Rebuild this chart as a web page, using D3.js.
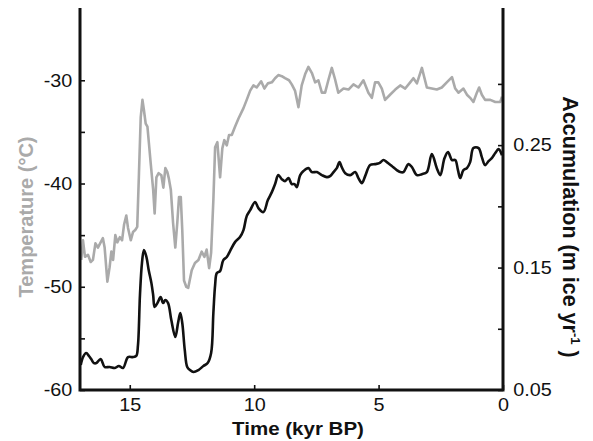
<!DOCTYPE html>
<html>
<head>
<meta charset="utf-8">
<script src="https://cdn.jsdelivr.net/npm/d3@7"></script>
<style>
  html, body { margin: 0; padding: 0; background: #fff; }
  svg { display: block; font-family: "Liberation Sans", Arial, Helvetica, sans-serif; }
</style>
</head>
<body>
<svg id="chart" width="593" height="441"></svg>
<script>
// Ice-core record: temperature (left axis) and accumulation (right axis) over the last 17 kyr.

// Time in kyr BP for the temperature record
const tempAge = [16.95,16.88,16.80,16.68,16.57,16.48,16.38,16.28,16.17,16.08,16.01,15.90,15.81,15.74,15.67,15.58,15.50,15.40,15.31,15.23,15.14,15.07,14.96,14.87,14.78,14.70,14.63,14.56,14.49,14.43,14.36,14.29,14.23,14.16,14.06,14.00,13.93,13.84,13.73,13.65,13.57,13.49,13.43,13.35,13.26,13.17,13.09,13.02,12.95,12.89,12.82,12.73,12.65,12.51,12.38,12.24,12.11,12.00,11.91,11.81,11.73,11.64,11.57,11.48,11.37,11.28,11.20,11.10,11.01,10.90,10.77,10.63,10.43,10.30,10.16,10.03,9.90,9.72,9.59,9.45,9.29,9.16,9.03,8.89,8.76,8.60,8.49,8.36,8.22,8.09,7.95,7.82,7.68,7.55,7.42,7.28,7.15,7.02,6.88,6.75,6.62,6.41,6.21,6.01,5.81,5.61,5.41,5.27,5.14,5.01,4.87,4.74,4.54,4.33,4.13,3.93,3.73,3.60,3.46,3.26,3.06,2.86,2.66,2.46,2.26,2.05,1.92,1.79,1.59,1.45,1.32,1.19,1.05,0.96,0.85,0.72,0.51,0.31,0.11,0.04];
// Temperature, degrees C
const tempValue = [-47.4,-45.5,-47.1,-46.9,-47.6,-47.4,-45.8,-46.2,-45.7,-45.3,-46.2,-49.5,-48.1,-46.6,-47.4,-45.0,-45.7,-45.2,-45.5,-44.0,-43.1,-44.3,-45.5,-44.7,-44.5,-44.2,-39.0,-33.6,-31.9,-32.9,-34.2,-34.5,-36.1,-38.0,-40.6,-42.9,-39.4,-39.0,-39.2,-40.4,-38.5,-38.9,-39.5,-40.6,-43.8,-46.2,-43.8,-41.3,-41.3,-44.5,-49.4,-50.0,-50.1,-48.4,-47.7,-47.4,-46.6,-47.1,-46.4,-48.2,-46.7,-41.6,-36.5,-36.0,-39.4,-36.6,-35.8,-36.3,-35.3,-35.3,-34.5,-33.7,-32.7,-31.9,-31.0,-30.5,-30.7,-30.1,-30.8,-30.3,-30.2,-29.8,-29.5,-29.6,-29.8,-30.0,-30.4,-31.0,-32.6,-30.5,-29.4,-28.7,-29.3,-30.2,-30.0,-31.2,-31.2,-30.0,-28.8,-29.9,-31.2,-30.8,-30.9,-30.4,-30.7,-30.0,-31.2,-31.7,-30.2,-30.2,-30.8,-31.9,-31.4,-30.9,-30.5,-30.8,-30.2,-29.8,-30.3,-28.8,-30.7,-30.8,-30.9,-30.7,-30.2,-29.7,-30.8,-31.2,-30.8,-31.4,-31.7,-32.1,-31.2,-30.7,-31.4,-31.9,-31.9,-32.1,-32.1,-31.6];

// Time in kyr BP for the accumulation record
const accAge = [16.97,16.88,16.75,16.64,16.55,16.44,16.34,16.17,16.01,15.81,15.60,15.44,15.27,15.07,14.87,14.74,14.67,14.59,14.51,14.43,14.33,14.24,14.13,14.06,14.00,13.89,13.76,13.66,13.57,13.46,13.33,13.17,13.06,12.97,12.89,12.79,12.69,12.58,12.44,12.24,12.04,11.87,11.73,11.64,11.57,11.50,11.37,11.24,11.10,10.97,10.77,10.57,10.43,10.30,10.16,9.96,9.83,9.63,9.45,9.29,9.16,9.03,8.89,8.76,8.62,8.49,8.38,8.29,8.15,8.02,7.82,7.68,7.48,7.28,7.08,6.95,6.81,6.68,6.57,6.48,6.34,6.14,5.94,5.81,5.67,5.54,5.34,5.14,4.97,4.80,4.67,4.47,4.27,4.13,4.00,3.80,3.66,3.46,3.26,3.06,2.86,2.66,2.52,2.35,2.21,2.05,1.92,1.81,1.72,1.59,1.45,1.32,1.19,0.98,0.85,0.72,0.58,0.45,0.31,0.18,0.04];
// Accumulation, m ice per year
const accValue = [0.0704,0.0769,0.0802,0.0778,0.0753,0.0720,0.0720,0.0753,0.0688,0.0688,0.0680,0.0696,0.0680,0.0769,0.0769,0.0778,0.0867,0.1276,0.1537,0.1643,0.1586,0.1480,0.1373,0.1276,0.1178,0.1210,0.1259,0.1210,0.1235,0.1210,0.1071,0.0933,0.1047,0.1129,0.1047,0.0827,0.0688,0.0663,0.0647,0.0663,0.0696,0.0720,0.0802,0.1129,0.1357,0.1455,0.1471,0.1561,0.1586,0.1635,0.1708,0.1749,0.1806,0.1920,0.1969,0.2035,0.1986,0.1953,0.2051,0.2116,0.2182,0.2255,0.2222,0.2206,0.2231,0.2182,0.2182,0.2157,0.2255,0.2288,0.2312,0.2280,0.2280,0.2255,0.2239,0.2247,0.2280,0.2312,0.2361,0.2320,0.2271,0.2255,0.2280,0.2231,0.2190,0.2247,0.2337,0.2345,0.2353,0.2378,0.2361,0.2329,0.2296,0.2280,0.2280,0.2345,0.2320,0.2255,0.2263,0.2280,0.2427,0.2312,0.2255,0.2394,0.2443,0.2378,0.2378,0.2296,0.2231,0.2296,0.2312,0.2361,0.2476,0.2476,0.2402,0.2337,0.2369,0.2394,0.2435,0.2467,0.2418];

// Axis ticks and labels
const timeTicks = [15, 10, 5, 0];
const tempTicks = [-60, -55, -50, -45, -40, -35, -30];
const tempLabels = [-60, -50, -40, -30];
const accTicks = [0.05, 0.10, 0.15, 0.20, 0.25, 0.30];
const accLabels = [0.05, 0.15, 0.25];

const svg = d3.select("#chart");
const plotLeft = 80, plotRight = 503, plotTop = 8, plotBottom = 390;
const FONT = "'Liberation Sans', Arial, Helvetica, sans-serif";
const WIDEN = 1.1; // tick labels are set slightly wide

const x = d3.scaleLinear().domain([17, 0]).range([plotLeft, plotRight]);
const yT = d3.scaleLinear().domain([-60, -23]).range([plotBottom, plotTop]);
const yA = d3.scaleLinear().domain([0.05, 0.362]).range([plotBottom, plotTop]);

const tempData = tempAge.map((t, i) => ({ t, v: tempValue[i] }));
const accData = accAge.map((t, i) => ({ t, v: accValue[i] }));

// Curves
svg.append("path")
  .datum(tempData)
  .attr("fill", "none")
  .attr("stroke", "#aaaaaa")
  .attr("stroke-width", 2.6)
  .attr("stroke-linejoin", "round")
  .attr("d", d3.line().x(d => x(d.t)).y(d => yT(d.v)));

svg.append("path")
  .datum(accData)
  .attr("fill", "none")
  .attr("stroke", "#111111")
  .attr("stroke-width", 2.6)
  .attr("stroke-linejoin", "round")
  .attr("d", d3.line().curve(d3.curveCatmullRom).x(d => x(d.t)).y(d => yA(d.v)));

// Axes with inward ticks
function styleAxis(g) {
  g.select(".domain").remove();
  g.selectAll(".tick line").attr("stroke", "#111").attr("stroke-width", 1.6);
  g.selectAll(".tick text").attr("fill", "#111").attr("font-size", 18)
    .attr("font-family", FONT)
    .attr("transform", `scale(${WIDEN},1)`);
}

const fmtT = d => tempLabels.includes(d) ? String(d) : "";
const fmtA = d => accLabels.some(v => Math.abs(v - d) < 1e-9) ? d.toFixed(2) : "";

svg.append("g")
  .attr("transform", `translate(${plotLeft},0)`)
  .call(d3.axisRight(yT).tickValues(tempTicks).tickSize(5).tickFormat(""))
  .call(styleAxis);
svg.append("g")
  .attr("transform", `translate(${plotLeft},0)`)
  .call(d3.axisLeft(yT).tickValues(tempLabels).tickSize(0).tickPadding(7).tickFormat(fmtT))
  .call(styleAxis);

svg.append("g")
  .attr("transform", `translate(${plotRight},0)`)
  .call(d3.axisLeft(yA).tickValues(accTicks).tickSize(5).tickFormat(""))
  .call(styleAxis);
svg.append("g")
  .attr("transform", `translate(${plotRight},0)`)
  .call(d3.axisRight(yA).tickValues(accLabels).tickSize(0).tickPadding(9.4).tickFormat(fmtA))
  .call(styleAxis);

svg.append("g")
  .attr("transform", `translate(0,${plotBottom})`)
  .call(d3.axisTop(x).tickValues(timeTicks).tickSize(5).tickFormat(""))
  .call(styleAxis);
const xLab = svg.append("g")
  .attr("transform", `translate(0,${plotBottom})`)
  .call(d3.axisBottom(x).tickValues(timeTicks).tickSize(0).tickPadding(8).tickFormat(d => String(d)))
  .call(styleAxis);
// keep centred labels on their ticks after widening
xLab.selectAll(".tick text").attr("transform", null)
  .attr("textLength", function () { return this.getComputedTextLength() * WIDEN; })
  .attr("lengthAdjust", "spacingAndGlyphs");

// Axis frame lines
const frame = svg.append("g").attr("stroke", "#111").attr("stroke-width", 3).attr("fill", "none");
frame.append("path").attr("d", `M${plotLeft},${plotTop}V${plotBottom}H${plotRight}V${plotTop}`);

// Titles
svg.append("text")
  .attr("transform", "translate(298,435) scale(1.08,1)")
  .attr("text-anchor", "middle")
  .attr("font-size", 19).attr("font-weight", "bold").attr("fill", "#111")
  .text("Time (kyr BP)");

svg.append("text")
  .attr("transform", "translate(33,217) rotate(-90)")
  .attr("text-anchor", "middle")
  .attr("font-size", 20).attr("font-weight", "bold").attr("fill", "#aaaaaa")
  .text("Temperature (°C)");

const accTitle = svg.append("text")
  .attr("transform", "translate(563,227) rotate(90)")
  .attr("text-anchor", "middle")
  .attr("font-size", 21.5).attr("font-weight", "bold").attr("fill", "#111");
accTitle.append("tspan").text("Accumulation (m ice yr");
accTitle.append("tspan").attr("font-size", 13).attr("dy", -8).text("-1");
accTitle.append("tspan").attr("dy", 8).text(" )");
</script>
</body>
</html>
